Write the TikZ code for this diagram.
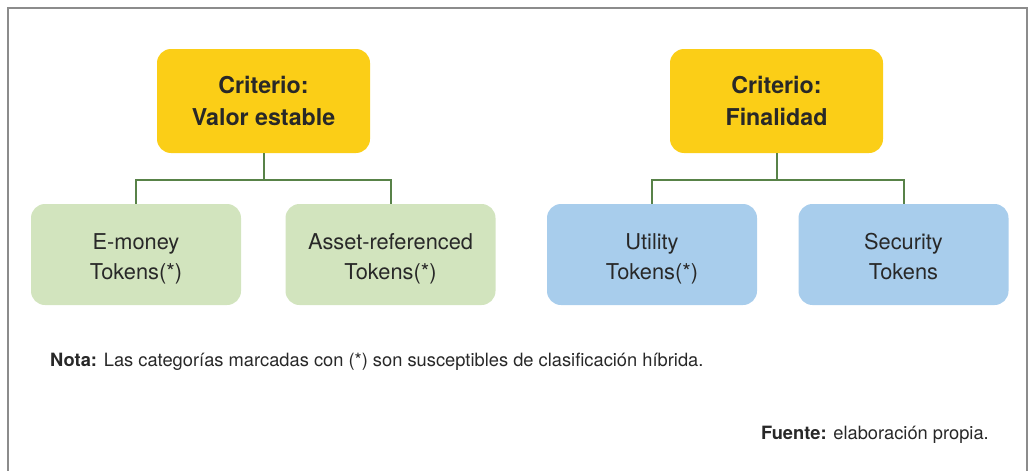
\documentclass[tikz,border=0pt]{standalone}
\usepackage{fontspec}
\setmainfont{TeX Gyre Heros}
\begin{document}
\begin{tikzpicture}[x=1pt,y=-1pt,
  crit/.style={rectangle, rounded corners=14pt, fill=critfill, text=textdark,
    minimum width=213pt, minimum height=104pt, align=center,
    font=\fontsize{23.2}{32}\selectfont\bfseries},
  leafg/.style={rectangle, rounded corners=14pt, fill=greenfill,
    minimum width=210pt, minimum height=101pt},
  leafb/.style={leafg, fill=bluefill},
  leaftext/.style={text=textdark, align=center, inner sep=0pt, yshift=-3.5pt,
    font=\fontsize{21.8}{30}\selectfont},
  link/.style={draw=linkgreen, line width=2pt},
  note/.style={text=textdark, inner sep=0pt, font=\fontsize{18.3}{20}\selectfont}
]
\definecolor{critfill}{RGB}{251,206,23}
\definecolor{greenfill}{RGB}{210,228,190}
\definecolor{bluefill}{RGB}{168,205,236}
\definecolor{linkgreen}{RGB}{88,130,72}
\definecolor{textdark}{RGB}{40,40,40}
\useasboundingbox (0,0) rectangle (1029,471);
% frame, open at the bottom
\draw[color=black!45, line width=1.5pt] (8,471) -- (8,8) -- (1027,8) -- (1027,471);
% criteria
\node[crit] (c1) at (263.5,101) {Criterio:\\Valor estable};
\node[crit] (c2) at (776.5,101) {Criterio:\\Finalidad};
% categories
\node[leafg, label={[leaftext]center:E-money\strut\\Tokens(*)\strut}] (g1) at (136,254.5) {};
\node[leafg, label={[leaftext]center:Asset-referenced\strut\\Tokens(*)\strut}] (g2) at (390.5,254.5) {};
\node[leafb, label={[leaftext]center:Utility\strut\\Tokens(*)\strut}] (b1) at (652,254.5) {};
\node[leafb, label={[leaftext]center:Security\strut\\Tokens\strut}] (b2) at (903.5,254.5) {};
% tree connectors
\coordinate (j1) at (263.5,180);
\coordinate (j2) at (776.5,180);
\draw[link] (c1.south) -- (j1);
\draw[link] (g1.north) |- (j1) -| (g2.north);
\draw[link] (c2.south) -- (j2);
\draw[link] (b1.north) |- (j2) -| (b2.north);
% notes
\node[note, anchor=base west] (nota) at (50,366)
  {\textbf{Nota:} Las categorías marcadas con (*) son susceptibles de clasificación híbrida.};
\node[note, anchor=base east] (fuente) at (989,439)
  {\textbf{Fuente:} elaboración propia.};
\end{tikzpicture}
\end{document}
